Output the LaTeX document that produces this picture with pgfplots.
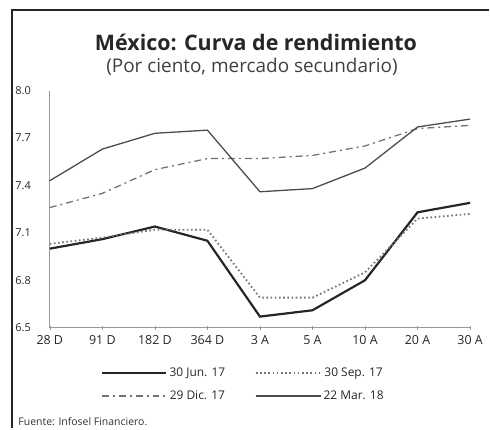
\documentclass[border=0pt]{standalone}
\usepackage{fontspec}
\setmainfont{Open Sans}
\usepackage{pgfplots}
\pgfplotsset{compat=1.18}
\begin{document}
\begin{tikzpicture}[x=1pt,y=1pt]
\path (0,0) rectangle (490,430);
\draw[line width=2pt, black!85] (12,0) -- (12,420) -- (491,420);
\node[font=\bfseries\fontsize{21.5}{24}\selectfont, text=black!85] at (257,387) {México: Curva de rendimiento};
\node[font=\fontsize{19}{22}\selectfont, text=black!75] at (253,363) {(Por ciento, mercado secundario)};
\node[font=\fontsize{10.5}{12}\selectfont, text=black!80, anchor=west] at (15,7) {Fuente: Infosel Financiero.};
\begin{axis}[
  at={(50pt,101pt)}, anchor=south west, scale only axis,
  width=422pt, height=238pt,
  xmin=0, xmax=8, ymin=6.5, ymax=8.0,
  xtick={0,...,8},
  xticklabels={28 D,91 D,182 D,364 D,3 A,5 A,10 A,20 A,30 A},
  ytick={6.5,6.8,7.1,7.4,7.7,8.0},
  yticklabel style={/pgf/number format/fixed, /pgf/number format/fixed zerofill, /pgf/number format/precision=1, anchor=west, xshift=-36pt, font=\fontsize{11}{12}\selectfont},
  /pgf/number format/assume math mode=true,
  axis lines*=left,
  axis line style={black!40, line width=0.6pt},
  x tick style={black!40, line width=0.5pt},
  major tick length=4pt, tick align=center,
  y tick style={draw=none},
  ticklabel style={text=black!85},
  xticklabel style={yshift=-2pt, font=\fontsize{12.5}{14}\selectfont},
  clip=false,
  legend columns=2,
  legend style={draw=none, fill=none, at={(axis description cs:0.46,-0.2395)}, anchor=center,
    font=\fontsize{12}{14}\selectfont, text=black!85, row sep=9pt,
    /tikz/every even column/.append style={column sep=28pt}},
  legend image code/.code={\draw[#1] (0pt,0pt) -- (65pt,0pt);},
]
\addplot[black!85, line width=2.2pt] coordinates {
(0,7.00) (1,7.06) (2,7.14) (3,7.05) (4,6.57) (5,6.61) (6,6.80) (7,7.23) (8,7.29)};
\addlegendentry{30 Jun. 17}
\addplot[black!55, line width=1.8pt, dash pattern=on 1.6pt off 2.6pt] coordinates {
(0,7.03) (1,7.07) (2,7.12) (3,7.12) (4,6.69) (5,6.69) (6,6.85) (7,7.19) (8,7.22)};
\addlegendentry{30 Sep. 17}
\addplot[black!55, line width=1.3pt, dash pattern=on 7pt off 4pt on 2pt off 4pt] coordinates {
(0,7.26) (1,7.35) (2,7.50) (3,7.57) (4,7.57) (5,7.59) (6,7.65) (7,7.76) (8,7.78)};
\addlegendentry{29 Dic. 17}
\addplot[black!70, line width=1.3pt] coordinates {
(0,7.43) (1,7.63) (2,7.73) (3,7.75) (4,7.36) (5,7.38) (6,7.51) (7,7.77) (8,7.82)};
\addlegendentry{22 Mar. 18}
\end{axis}
\end{tikzpicture}
\end{document}
